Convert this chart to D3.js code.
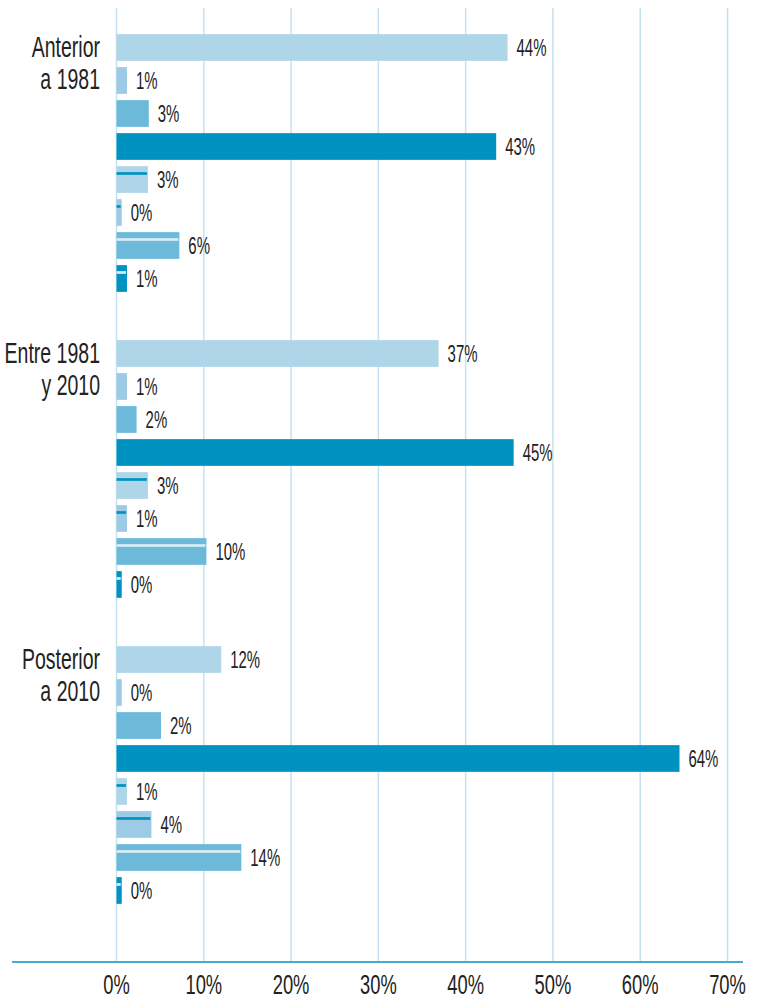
<!DOCTYPE html>
<html>
<head>
<meta charset="utf-8">
<script src="https://cdn.jsdelivr.net/npm/d3@7"></script>
<style>
  body { margin: 0; background: #fff; }
  text { font-family: "Liberation Sans", Arial, sans-serif; fill: #222; }
</style>
</head>
<body>
<div id="chart"></div>
<script>
// Data
const periods = ['Anterior|a 1981', 'Entre 1981|y 2010', 'Posterior|a 2010'];
const seriesKeys = ['s1', 's2', 's3', 's4', 's5', 's6', 's7', 's8'];
const valuesAnterior = [44.8, 1.2, 3.7, 43.5, 3.6, 0.6, 7.2, 1.2];
const valuesEntre = [36.9, 1.2, 2.3, 45.5, 3.6, 1.2, 10.3, 0.6];
const valuesPosterior = [12.0, 0.6, 5.1, 64.5, 1.2, 4.0, 14.3, 0.6];
const labelsAnterior = ['44%', '1%', '3%', '43%', '3%', '0%', '6%', '1%'];
const labelsEntre = ['37%', '1%', '2%', '45%', '3%', '1%', '10%', '0%'];
const labelsPosterior = ['12%', '0%', '2%', '64%', '1%', '4%', '14%', '0%'];
const xTicks = [0, 10, 20, 30, 40, 50, 60, 70];

const allValues = [valuesAnterior, valuesEntre, valuesPosterior];
const allLabels = [labelsAnterior, labelsEntre, labelsPosterior];

// Styles per series
const fillColors = ['#afd5e8', '#9dcbe5', '#6cb9da', '#0093c2', '#afd5e8', '#9dcbe5', '#6cb9da', '#0093c2'];
const stripeColors = [null, null, null, null, '#0093c2', '#0093c2', '#d9edf6', '#d9edf6'];

const width = 777, height = 1000;

const svg = d3.select('#chart').append('svg')
    .attr('width', width)
    .attr('height', height);

const x = d3.scaleLinear()
    .domain([0, 70])
    .range([116.5, 727.5]);

const yGroup = d3.scaleBand()
    .domain(periods)
    .range([31, 949])
    .paddingInner(0)
    .paddingOuter(0);

const yBar = d3.scaleBand()
    .domain(seriesKeys)
    .range([0, 264])
    .paddingInner(0.19)
    .paddingOuter(0.095);

// Gridlines
svg.append('g')
    .selectAll('line')
    .data(xTicks)
    .join('line')
    .attr('x1', d => x(d))
    .attr('x2', d => x(d))
    .attr('y1', 8)
    .attr('y2', 962)
    .attr('stroke', '#c6e2f0')
    .attr('stroke-width', 1.5);

// Axis line
svg.append('line')
    .attr('x1', 12)
    .attr('x2', 743)
    .attr('y1', 962)
    .attr('y2', 962)
    .attr('stroke', '#45aad6')
    .attr('stroke-width', 2);

// Tick labels
svg.append('g')
    .selectAll('text')
    .data(xTicks)
    .join('text')
    .attr('transform', d => `translate(${x(d)},994) scale(0.68,1)`)
    .attr('text-anchor', 'middle')
    .attr('font-size', 27)
    .text(d => d + '%');

// Groups
const groups = svg.append('g')
    .selectAll('g')
    .data(periods)
    .join('g')
    .attr('transform', d => `translate(0,${yGroup(d)})`);

// Category labels
groups.append('text')
    .attr('text-anchor', 'end')
    .attr('font-size', 30)
    .attr('transform', 'translate(100,26) scale(0.65,1)')
    .selectAll('tspan')
    .data(d => d.split('|'))
    .join('tspan')
    .attr('x', 0)
    .attr('y', (d, i) => i * 31.6)
    .text(d => d);

// Bars
groups.each(function (p, gi) {
    const g = d3.select(this);
    const rows = seriesKeys.map((k, i) => ({
        key: k, i: i, value: allValues[gi][i], label: allLabels[gi][i]
    }));

    g.selectAll('rect.bar')
        .data(rows)
        .join('rect')
        .attr('class', 'bar')
        .attr('x', x(0))
        .attr('y', d => yBar(d.key))
        .attr('width', d => x(d.value) - x(0))
        .attr('height', yBar.bandwidth())
        .attr('fill', d => fillColors[d.i]);

    g.selectAll('rect.stripe')
        .data(rows.filter(d => stripeColors[d.i]))
        .join('rect')
        .attr('class', 'stripe')
        .attr('x', x(0))
        .attr('y', d => yBar(d.key) + 6)
        .attr('width', d => Math.max(0, x(d.value) - x(0) - 1))
        .attr('height', 2.7)
        .attr('fill', d => stripeColors[d.i]);

    g.selectAll('text.val')
        .data(rows)
        .join('text')
        .attr('class', 'val')
        .attr('transform', d => `translate(${x(d.value) + 9},${yBar(d.key) + yBar.bandwidth() / 2 + 8}) scale(0.65,1)`)
        .attr('font-size', 23)
        .text(d => d.label);
});
</script>
</body>
</html>
